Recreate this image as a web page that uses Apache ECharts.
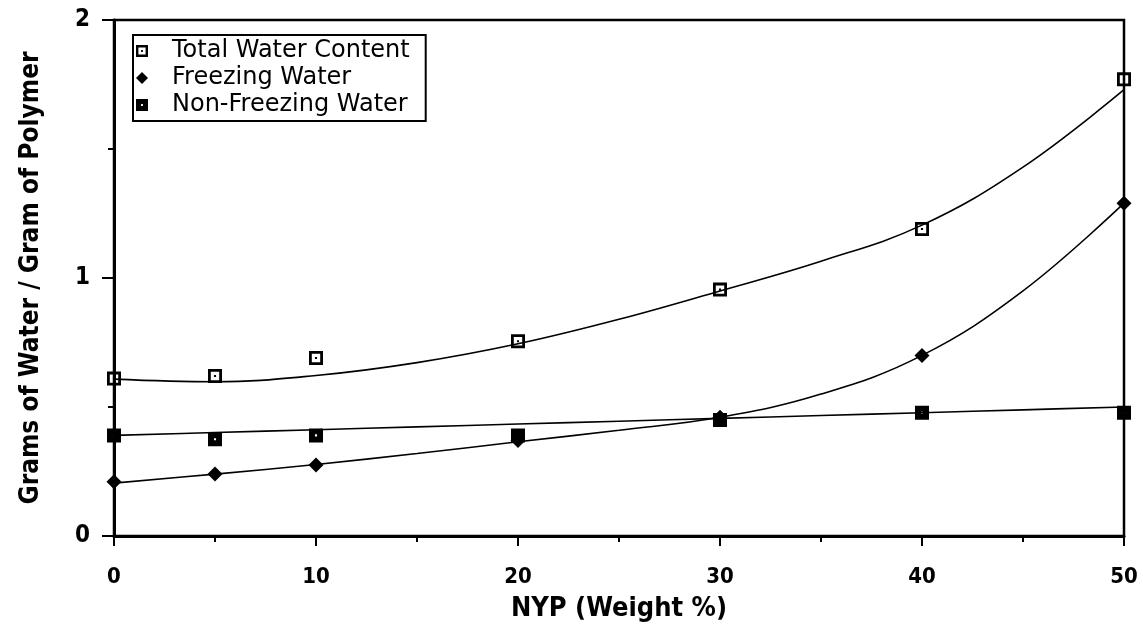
<!DOCTYPE html>
<html>
<head>
<meta charset="utf-8">
<script src="https://cdn.jsdelivr.net/npm/echarts@6/dist/echarts.min.js"></script>
<style>
  html, body { margin: 0; padding: 0; background: #fff; }
  #chart { width: 1143px; height: 627px; }
</style>
</head>
<body>
<div id="chart"></div>
<script>
// NYP content (weight %) of the hydrogel samples
const nyp = [0, 5, 10, 20, 30, 40, 50];

// Measured water uptake, grams of water per gram of polymer
const totalWater = [0.61, 0.62, 0.69, 0.755, 0.955, 1.19, 1.77];
const freezingWater = [0.21, 0.24, 0.275, 0.37, 0.46, 0.70, 1.29];
const nonFreezingWater = [0.39, 0.375, 0.39, 0.39, 0.45, 0.478, 0.478];

// Fitted trend curves, sampled along the NYP axis
const fitX = [0, 5, 10, 15, 20, 25, 30, 35, 40, 45, 50];
const totalFit = [0.608, 0.598, 0.622, 0.672, 0.745, 0.84, 0.95, 1.065, 1.205, 1.43, 1.73];
const freezingFit = [0.205, 0.24, 0.277, 0.32, 0.365, 0.41, 0.46, 0.55, 0.70, 0.95, 1.29];
const nonFreezingFit = [0.39, 0.401, 0.412, 0.423, 0.434, 0.445, 0.456, 0.467, 0.478, 0.489, 0.50];

const yTicks = [0, 1, 2];
const xTicks = [0, 10, 20, 30, 40, 50];

const seriesNames = ['Total Water Content', 'Freezing Water', 'Non-Freezing Water'];

// Marker shapes: open square with centre dot, diamond, filled square with light centre
const openSquare = 'path://M0 0H20V20H0Z M4 4V16H16V4Z M8.5 8.5H11.5V11.5H8.5Z';
const solidSquare = 'path://M0 0H20V20H0Z M8.5 8.5V11.5H11.5V8.5Z';
const diamond = 'diamond';

const pairs = (xs, ys) => xs.map((x, i) => [x, ys[i]]);

const labelFont = '"Liberation Sans Narrow", "DejaVu Sans Condensed", "Liberation Sans", sans-serif';

const chart = echarts.init(document.getElementById('chart'), null, { renderer: 'canvas' });

function fitSeries(ys) {
  return {
    type: 'line',
    data: pairs(fitX, ys),
    smooth: 0.4,
    showSymbol: false,
    silent: true,
    lineStyle: { color: '#000', width: 1.6 },
    z: 2
  };
}

function pointSeries(name, ys, symbol, size) {
  return {
    name: name,
    type: 'line',
    data: pairs(nyp, ys),
    symbol: symbol,
    symbolSize: size,
    lineStyle: { width: 0, opacity: 0 },
    itemStyle: { color: '#000' },
    z: 4
  };
}

chart.setOption({
  animation: false,
  backgroundColor: '#fff',
  grid: {
    left: 114, right: 19, top: 20, bottom: 91,
    show: true, borderColor: '#000', borderWidth: 2.5, backgroundColor: 'transparent'
  },
  legend: {
    orient: 'vertical',
    left: 133, top: 35,
    padding: [4, 16, 4, 3],
    itemGap: 3,
    itemWidth: 12, itemHeight: 12,
    borderColor: '#000', borderWidth: 2, borderRadius: 0,
    backgroundColor: '#fff',
    data: [
      { name: seriesNames[0], icon: openSquare },
      { name: seriesNames[1], icon: diamond },
      { name: seriesNames[2], icon: solidSquare }
    ],
    textStyle: { fontFamily: '"DejaVu Sans", sans-serif', fontSize: 24, color: '#000', padding: [0, 0, 0, 19] }
  },
  xAxis: {
    type: 'value', min: 0, max: 50, interval: 10,
    name: 'NYP (Weight %)', nameLocation: 'middle', nameGap: 59,
    nameTextStyle: { fontFamily: labelFont, fontWeight: 'bold', fontSize: 27, color: '#000' },
    axisLine: { lineStyle: { color: '#000', width: 3 } },
    axisTick: { show: true, length: 10, lineStyle: { color: '#000', width: 2 } },
    minorTick: { show: true, splitNumber: 2, length: 6, lineStyle: { color: '#000', width: 2 } },
    splitLine: { show: false },
    axisLabel: {
      margin: 30, fontFamily: labelFont, fontWeight: 'bold', fontSize: 22, color: '#000',
      formatter: v => (xTicks.indexOf(v) >= 0 ? String(v) : '')
    }
  },
  yAxis: {
    type: 'value', min: 0, max: 2, interval: 1,
    name: 'Grams of Water / Gram of Polymer', nameLocation: 'middle', nameGap: 70,
    nameTextStyle: { fontFamily: labelFont, fontWeight: 'bold', fontSize: 26, color: '#000' },
    axisLine: { lineStyle: { color: '#000', width: 3 } },
    axisTick: { show: true, length: 12, lineStyle: { color: '#000', width: 2 } },
    minorTick: { show: true, splitNumber: 2, length: 6, lineStyle: { color: '#000', width: 2 } },
    splitLine: { show: false },
    axisLabel: {
      margin: 24, fontFamily: labelFont, fontWeight: 'bold', fontSize: 24, color: '#000',
      formatter: v => (yTicks.indexOf(v) >= 0 ? String(v) : '')
    }
  },
  series: [
    fitSeries(totalFit),
    fitSeries(freezingFit),
    fitSeries(nonFreezingFit),
    pointSeries(seriesNames[0], totalWater, openSquare, 14),
    pointSeries(seriesNames[1], freezingWater, diamond, 15),
    pointSeries(seriesNames[2], nonFreezingWater, solidSquare, 14)
  ]
});
</script>
</body>
</html>
